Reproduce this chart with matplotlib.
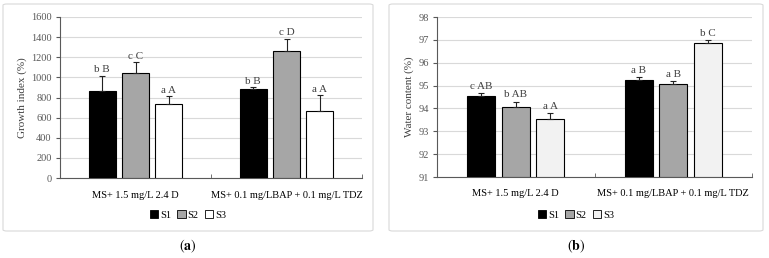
import matplotlib
matplotlib.use("Agg")
import matplotlib.pyplot as plt
from matplotlib.patches import FancyBboxPatch, Patch
import numpy as np

plt.rcParams['font.family'] = ['Liberation Serif', 'DejaVu Serif']
plt.rcParams['mathtext.fontset'] = 'stix'

categories = ["MS+ 1.5 mg/L 2.4 D", "MS+ 0.1 mg/LBAP + 0.1 mg/L TDZ"]
series = ["S1", "S2", "S3"]

growth_s1 = [860, 880]
growth_s2 = [1040, 1265]
growth_s3 = [735, 665]
growth_err_s1 = [155, 20]
growth_err_s2 = [110, 120]
growth_err_s3 = [75, 155]
growth_letters_s1 = ["b B", "b B"]
growth_letters_s2 = ["c C", "c D"]
growth_letters_s3 = ["a A", "a A"]

water_s1 = [94.55, 95.25]
water_s2 = [94.05, 95.05]
water_s3 = [93.55, 96.85]
water_err_s1 = [0.12, 0.13]
water_err_s2 = [0.25, 0.15]
water_err_s3 = [0.25, 0.15]
water_letters_s1 = ["c AB", "a B"]
water_letters_s2 = ["b AB", "a B"]
water_letters_s3 = ["a A", "b C"]

W, H = 769, 258
fig = plt.figure(figsize=(W / 100, H / 100), dpi=100)


def fx(px):
    return px / W


def fy(py):
    return 1 - py / H


# panel boxes
for (x0, x1) in [(3, 373), (389, 763)]:
    box = FancyBboxPatch((fx(x0), fy(231)), fx(x1 - x0), (231 - 4) / H,
                         boxstyle="round,pad=0,rounding_size=0.005",
                         transform=fig.transFigure, facecolor="none",
                         edgecolor="#d9d9d9", linewidth=0.8, zorder=-1)
    fig.patches.append(box)

axis_col = "#595959"
grid_col = "#d9d9d9"
text_col = "#404040"


def draw_panel(ax, vals, errs, letters, colors, ylim, yticks, ylabel, letter_off):
    x = np.arange(len(categories))
    width = 0.178
    offs = [-0.22, 0.0, 0.22]
    for v, e, lab, c, o in zip(vals, errs, letters, colors, offs):
        bottom = ylim[0]
        heights = [vv - bottom for vv in v]
        ax.bar(x + o, heights, width, bottom=bottom, color=c, edgecolor="black",
               linewidth=0.8, zorder=3)
        ax.errorbar(x + o, v, yerr=[np.zeros(len(e)), e], fmt="none",
                    ecolor="#222222", elinewidth=0.8, capsize=2.5, capthick=0.8, zorder=4)
        for xi, vv, ee, ll in zip(x + o, v, e, lab):
            ax.text(xi, vv + ee + letter_off, ll, ha="center", va="bottom",
                    fontsize=8, color=text_col)
    ax.set_xlim(-0.5, 1.5)
    ax.set_ylim(*ylim)
    ax.set_yticks(yticks)
    ax.set_xticks(x)
    ax.set_xticklabels(categories, fontsize=7.5, color="black")
    ax.tick_params(axis="x", length=0, pad=9)
    ax.set_xticks([-0.5, 0.5, 1.5], minor=True)
    ax.tick_params(axis="x", which="minor", direction="in", length=3, color=axis_col)
    ax.tick_params(axis="y", direction="out", length=3, color=axis_col,
                   labelsize=7.5, labelcolor="#595959", pad=3)
    ax.grid(axis="y", color=grid_col, linewidth=0.8, zorder=0)
    ax.set_axisbelow(True)
    ax.patch.set_alpha(0)
    for s in ["top", "right"]:
        ax.spines[s].set_visible(False)
    for s in ["left", "bottom"]:
        ax.spines[s].set_color(axis_col)
        ax.spines[s].set_linewidth(0.8)
    ax.set_ylabel(ylabel, fontsize=8, color=text_col, labelpad=3)


axL = fig.add_axes([fx(60), fy(178), fx(362 - 60), (178 - 17) / H])
draw_panel(axL, [growth_s1, growth_s2, growth_s3],
           [growth_err_s1, growth_err_s2, growth_err_s3],
           [growth_letters_s1, growth_letters_s2, growth_letters_s3],
           ["black", "#a6a6a6", "white"], (0, 1600),
           np.arange(0, 1601, 200), "Growth index (%)", 15)

axR = fig.add_axes([fx(437), fy(177), fx(752 - 437), (177 - 17) / H])
draw_panel(axR, [water_s1, water_s2, water_s3],
           [water_err_s1, water_err_s2, water_err_s3],
           [water_letters_s1, water_letters_s2, water_letters_s3],
           ["black", "#a6a6a6", "#f2f2f2"], (91, 98),
           np.arange(91, 98.5, 1), "Water content (%)", 0.1)

for cx, colors, lab in [(188, ["black", "#a6a6a6", "white"], r"$(\mathbf{a})$"),
                        (576, ["black", "#a6a6a6", "#f2f2f2"], r"$(\mathbf{b})$")]:
    handles = [Patch(facecolor=c, edgecolor="black", linewidth=0.6) for c in colors]
    fig.legend(handles, series, loc="center", bbox_to_anchor=(fx(cx), fy(215)),
               ncol=3, frameon=False, fontsize=7.5, handlelength=0.8,
               handleheight=0.8, handletextpad=0.2, columnspacing=0.6)
    fig.text(fx(cx), fy(246), lab, ha="center", va="center", fontsize=10)

fig.savefig("out.png", dpi=100)
